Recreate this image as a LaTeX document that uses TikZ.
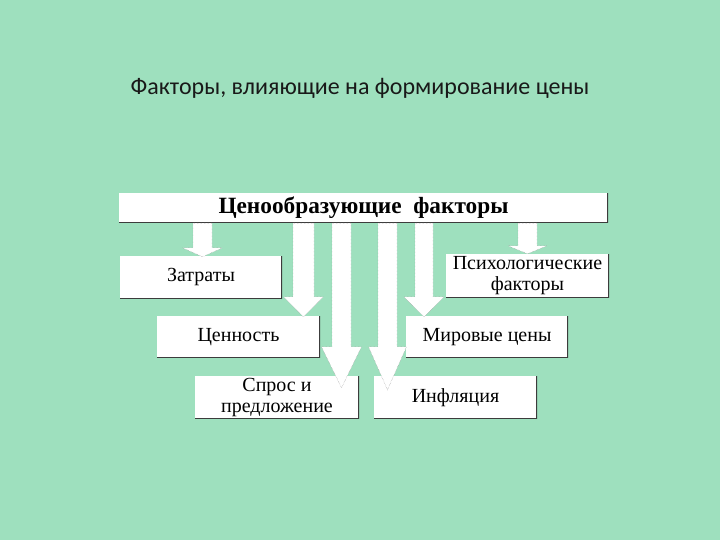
\documentclass[tikz,border=0pt]{standalone}
\usepackage{fontspec}
\usetikzlibrary{calc}
\setmainfont{Liberation Serif}
\newfontfamily\titlefont{Carlito}
\definecolor{bg}{RGB}{158,224,190}
\definecolor{edgedark}{RGB}{60,60,60}
\tikzset{
  box/.style={fill=white, inner sep=0pt, align=center,
    font=\fontsize{20}{21}\selectfont,
    path picture={\draw[edgedark, line width=2pt]
      (path picture bounding box.north east) -- (path picture bounding box.south east)
      -- (path picture bounding box.south west);}},
  arr/.style={fill=white, draw=black!45, line width=0.4pt, densely dotted}
}
% #1 centre x, #2 shaft half width, #3 head half width, #4 source, #5 target, #6 head length, #7 overshoot
\newcommand\blockarr[7]{%
  \path[arr] let \p1=(#4.south), \p2=(#5.north) in
    (#1-#2,\y1) -- (#1+#2,\y1) -- (#1+#2,\y2-#7+#6) -- (#1+#3,\y2-#7+#6)
    -- (#1,\y2-#7) -- (#1-#3,\y2-#7+#6) -- (#1-#2,\y2-#7+#6) -- cycle;}
\begin{document}
\begin{tikzpicture}[x=1pt,y=1pt]
\fill[bg] (0,0) rectangle (720,540);
\useasboundingbox (0,0) rectangle (720,540);
\node[font=\titlefont\fontsize{24}{28}\selectfont, text=black!90] (title) at (360,452) {Факторы, влияющие на формирование цены};
\node[box, minimum width=489, minimum height=30, font=\bfseries\fontsize{23.3}{24}\selectfont] (top) at (363.5,332) {Ценообразующие\ \ факторы};
\node[box, minimum width=162, minimum height=43] (zatr) at (201,262.5) {Затраты};
\node[box, minimum width=163, minimum height=44] (psy) at (527.5,264) {Психологические\\факторы};
\node[box, minimum width=163, minimum height=42] (cen) at (238.5,203) {Ценность};
\node[box, minimum width=162, minimum height=42] (mir) at (487,203) {Мировые цены};
\node[box, minimum width=164, minimum height=43] (spros) at (277,142.5) {Спрос и\\предложение};
\node[box, minimum width=163, minimum height=43] (infl) at (455.5,142.5) {Инфляция};
\blockarr{202.5}{9.5}{20}{top}{zatr}{9}{1}
\blockarr{303.5}{10.5}{20}{top}{cen}{20}{1}
\blockarr{341.5}{9.5}{20}{top}{spros}{41}{12}
\blockarr{387.5}{9.5}{19}{top}{infl}{43}{14}
\blockarr{424}{9}{20}{top}{mir}{20}{1}
\blockarr{527.5}{9.5}{19.5}{top}{psy}{8}{0}
\end{tikzpicture}
\end{document}
